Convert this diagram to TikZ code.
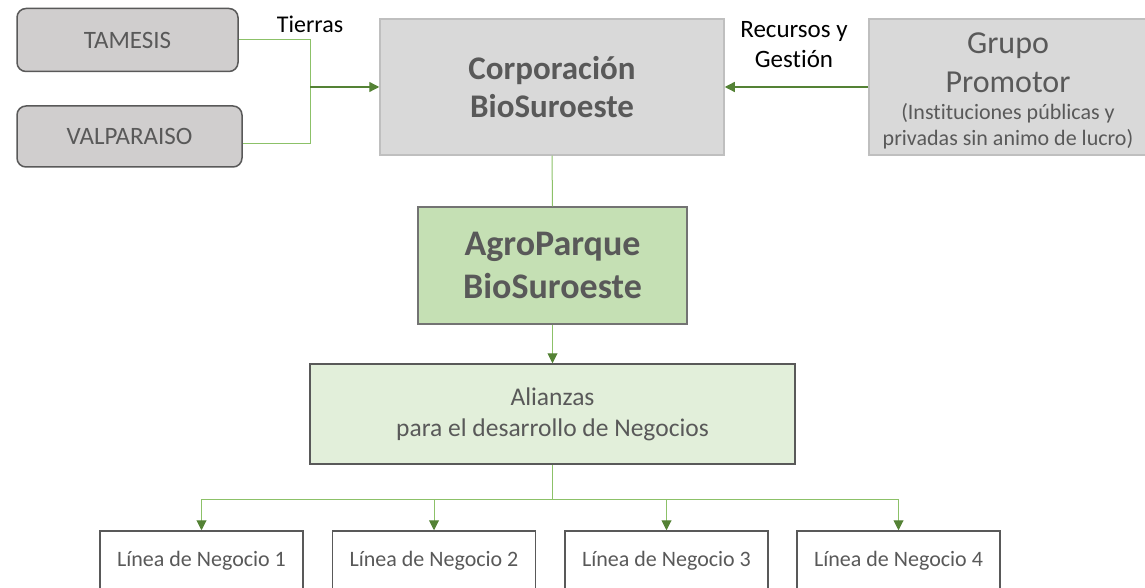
\documentclass[tikz,border=0pt]{standalone}
\usepackage{fontspec}
\setmainfont{Carlito}[Ligatures=NoCommon]
\usetikzlibrary{arrows.meta}
\definecolor{txtgray}{HTML}{595959}
\definecolor{bordark}{HTML}{595959}
\definecolor{roundfill}{HTML}{D0CECE}
\definecolor{boxgray}{HTML}{D9D9D9}
\definecolor{borlight}{HTML}{BFBFBF}
\definecolor{agrofill}{HTML}{C5E0B4}
\definecolor{alifill}{HTML}{E2EFDA}
\definecolor{lightgreen}{HTML}{8CC168}
\definecolor{darkgreen}{HTML}{548235}
\begin{document}
\begin{tikzpicture}[x=1pt,y=-1pt,
  fs/.style n args={2}{font=\fontsize{#1}{#2}\selectfont},
  roundbox/.style={draw=bordark,fill=roundfill,rounded corners=9pt,line width=1.5pt,inner sep=0pt,text=txtgray,align=center},
  graybox/.style={draw=borlight,fill=boxgray,line width=1.5pt,inner sep=0pt,text=txtgray,align=center},
  agrobox/.style={draw=black!55,fill=agrofill,line width=1.2pt,inner sep=0pt,text=txtgray,align=center},
  alibox/.style={draw=bordark,fill=alifill,line width=1.5pt,inner sep=0pt,text=txtgray,align=center},
  linebox/.style={draw=bordark,fill=white,line width=1.5pt,inner sep=0pt,text=txtgray,align=center,minimum width=203pt,minimum height=60pt},
  conn/.style={draw=lightgreen,line width=1pt},
  arr/.style={conn,-{Triangle[length=10pt,width=10pt,color=darkgreen]}},
  darr/.style={draw=darkgreen,line width=1.3pt,-{Triangle[length=10pt,width=10pt,color=darkgreen]}},
  lbl/.style={text=black,align=center,inner sep=0pt},
  intxt/.style={text=txtgray,align=center,inner sep=0pt}
]
\useasboundingbox (0,0) rectangle (1145,588);
\clip (0,0) rectangle (1145,588);

\node[roundbox,minimum width=221pt,minimum height=63pt,fs={25}{29}] (tam) at (127.5,40) {TAMESIS};
\node[roundbox,minimum width=225pt,minimum height=61pt,fs={25}{29}] (val) at (129.5,136.5) {VALPARAISO};

\node[graybox,minimum width=344pt,minimum height=136pt,fs={33}{38}] (corp) at (552,87) {\textbf{Corporación}\\\textbf{BioSuroeste}};

\node[graybox,minimum width=278pt,minimum height=136pt] (grupo) at (1008,87) {};
\node[intxt,fs={32}{39}] (gtitle) at (1008,62.5) {Grupo\\Promotor};
\node[intxt,fs={22}{26}] (gsub) at (1008,126.5) {(Instituciones públicas y\\privadas sin animo de lucro)};

\node[agrobox,minimum width=269pt,minimum height=117pt,fs={36}{43}] (agro) at (552.5,265.5) {\textbf{AgroParque}\\\textbf{BioSuroeste}};

\node[alibox,minimum width=485pt,minimum height=100pt,fs={25.5}{31}] (ali) at (552.5,414) {Alianzas\\para el desarrollo de Negocios};

\node[linebox,fs={22}{26}] (l1) at (201.5,561) {Línea de Negocio 1};
\node[linebox,fs={22}{26}] (l2) at (434,561) {Línea de Negocio 2};
\node[linebox,fs={22}{26}] (l3) at (666.5,561) {Línea de Negocio 3};
\node[linebox,fs={22}{26}] (l4) at (898.5,561) {Línea de Negocio 4};

\node[lbl,fs={24}{30}] (tierras) at (310,24) {Tierras};
\node[lbl,fs={25}{30}] (recursos) at (794,45) {Recursos y\\Gestión};

% connectors
\coordinate (m) at (310,87);
\draw[conn] (tam.east) -| (m);
\draw[conn] ([yshift=-7.5pt]val.east) -| (m);
\draw[darr] (m) -- (corp.west);
\draw[darr] (grupo.west) -- (corp.east);
\draw[conn] (corp.south) -- (agro.north);
\draw[arr] (agro.south) -- (ali.north);
\path (ali.south) ++(0,35) coordinate (j);
\draw[conn] (ali.south) -- (j);
\draw[arr] (j) -| (l1.north);
\draw[arr] (j) -| (l2.north);
\draw[arr] (j) -| (l3.north);
\draw[arr] (j) -| (l4.north);
\end{tikzpicture}
\end{document}
